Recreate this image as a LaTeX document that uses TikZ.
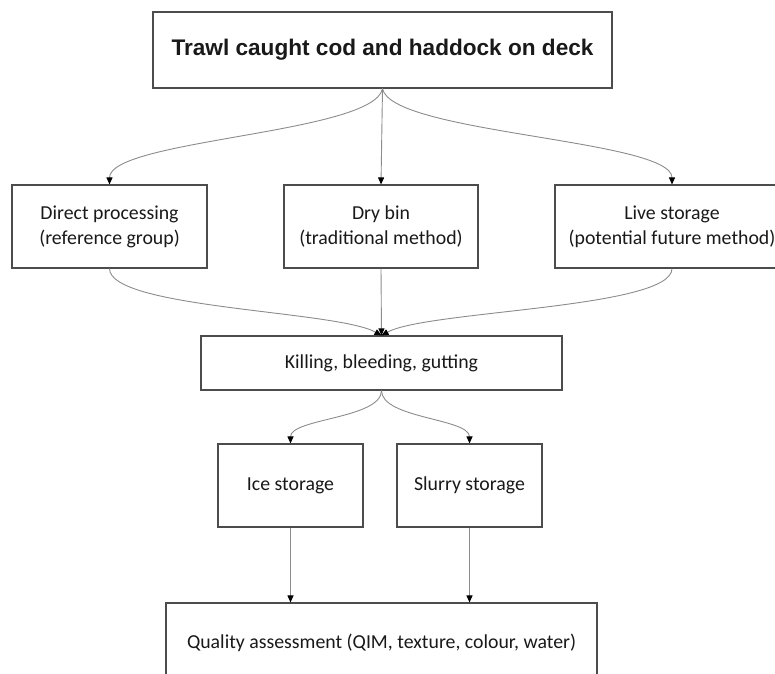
\documentclass[tikz,border=0pt]{standalone}
\usepackage{fontspec}
\setmainfont{Carlito}
\newfontfamily\headfont{Liberation Sans}
\usetikzlibrary{arrows.meta}
\tikzset{
  box/.style={draw=black!70, line width=1.1pt, fill=white, inner sep=0pt, align=center, text=black!90, font=\fontsize{19.8}{25}\selectfont},
  conn/.style={draw=black!45, line width=0.9pt, -{Stealth[length=7pt,width=6pt,inset=0pt,color=black,fill=black]}},
}
\begin{document}
\begin{tikzpicture}[x=1pt,y=-1pt]
\useasboundingbox (0,0) rectangle (775,673);
\clip (0,0) rectangle (775,673);
\node[box, minimum width=459pt, minimum height=76pt, font=\headfont\bfseries\fontsize{22.6}{26}\selectfont] (top) at (382.5,50) {Trawl caught cod and haddock on deck};
\node[box, minimum width=195pt, minimum height=83pt] (direct) at (109.5,226.5) {Direct processing\\(reference group)};
\node[box, minimum width=194pt, minimum height=83pt] (dry) at (381,226.5) {Dry bin\\(traditional method)};
\node[box, minimum width=234pt, minimum height=83pt] (live) at (672,226.5) {Live storage\\(potential future method)};
\node[box, minimum width=361pt, minimum height=54pt] (kill) at (381.5,363) {Killing, bleeding, gutting};
\node[box, minimum width=145pt, minimum height=83pt] (ice) at (290.5,485.5) {Ice storage};
\node[box, minimum width=145pt, minimum height=83pt] (slurry) at (469.5,485.5) {Slurry storage};
\node[box, minimum width=431pt, minimum height=80pt] (qual) at (381.5,643) {Quality assessment (QIM, texture, colour, water)};
\coordinate (ts) at (top.south);
\coordinate (kn) at (kill.north);
\coordinate (ks) at (kill.south);
\draw[conn] (ts) .. controls +(-8,45) and +(0,-45) .. (direct.north);
\draw[conn] (ts) -- (dry.north);
\draw[conn] (ts) .. controls +(8,45) and +(0,-45) .. (live.north);
\draw[conn] (direct.south) .. controls +(0,40) and +(-45,-25) .. (kn);
\draw[conn] (dry.south) -- (kn);
\draw[conn] (live.south) .. controls +(0,40) and +(45,-25) .. (kn);
\draw[conn] (ks) .. controls +(0,28) and +(0,-25) .. (ice.north);
\draw[conn] (ks) .. controls +(0,28) and +(0,-25) .. (slurry.north);
\draw[conn] (ice.south) -- (ice.south |- qual.north);
\draw[conn] (slurry.south) -- (slurry.south |- qual.north);
\end{tikzpicture}
\end{document}
